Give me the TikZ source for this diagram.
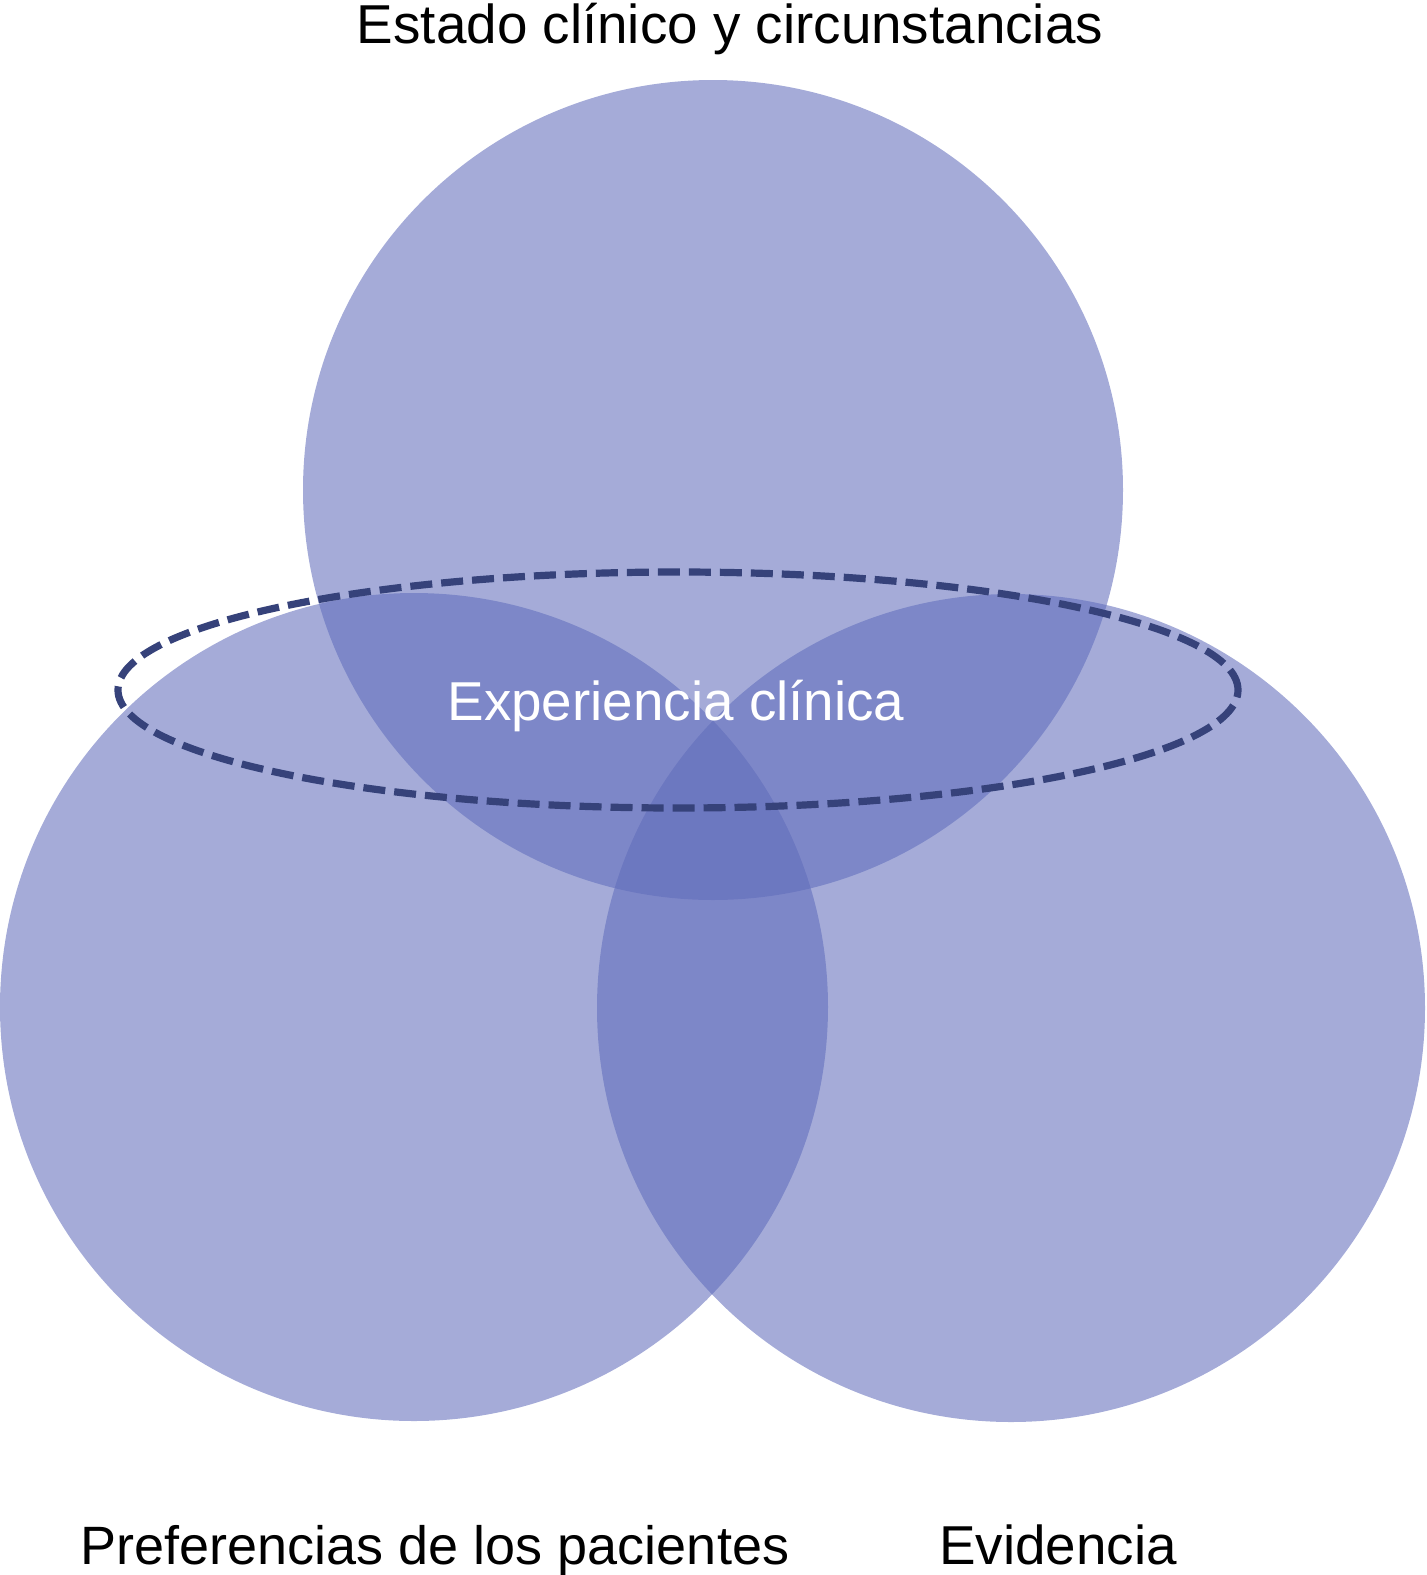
\documentclass[tikz,border=0pt]{standalone}
\usepackage{fontspec}
\setmainfont{Liberation Sans}
\usepackage{xcolor}
\usepackage{tikz}
\usetikzlibrary{shapes.geometric}
\definecolor{vennblue}{HTML}{606CBB}
\definecolor{ringnavy}{HTML}{36427A}

\begin{document}
\begin{tikzpicture}[
  x=0.5pt, y=-0.5pt,
  every node/.style={font=\fontsize{27.4}{33}\selectfont},
  disc/.style={circle, fill=vennblue, fill opacity=0.57, draw=none,
               inner sep=0pt, outer sep=0pt},
  ring/.style={ellipse, draw=ringnavy, line width=3.6pt,
               dash pattern=on 11pt off 4.5pt, inner sep=0pt,
               minimum width=560pt, minimum height=118pt},
  lbl/.style={anchor=base, inner sep=0pt, text=black},
]
  \useasboundingbox (0,0) rectangle (1427,1575);
  % circles
  \node[disc, minimum size=410pt] (estado) at (713,490) {};
  \node[disc, minimum size=414pt] (prefs) at (414,1007) {};
  \node[disc, minimum size=414pt] (evid) at (1011,1008) {};
  % dashed ellipse
  \node[ring] (experiencia) at (678,690) {};
  % labels
  \node[lbl] (estadolbl) at (730,43) {Estado clínico y circunstancias};
  \node[lbl, text=white] (explbl) at (676,720) {Experiencia clínica};
  \node[lbl, font=\fontsize{27}{33}\selectfont] (prefslbl) at (435,1564) {Preferencias de los pacientes};
  \node[lbl] (evidlbl) at (1058,1564) {Evidencia};
\end{tikzpicture}
\end{document}
